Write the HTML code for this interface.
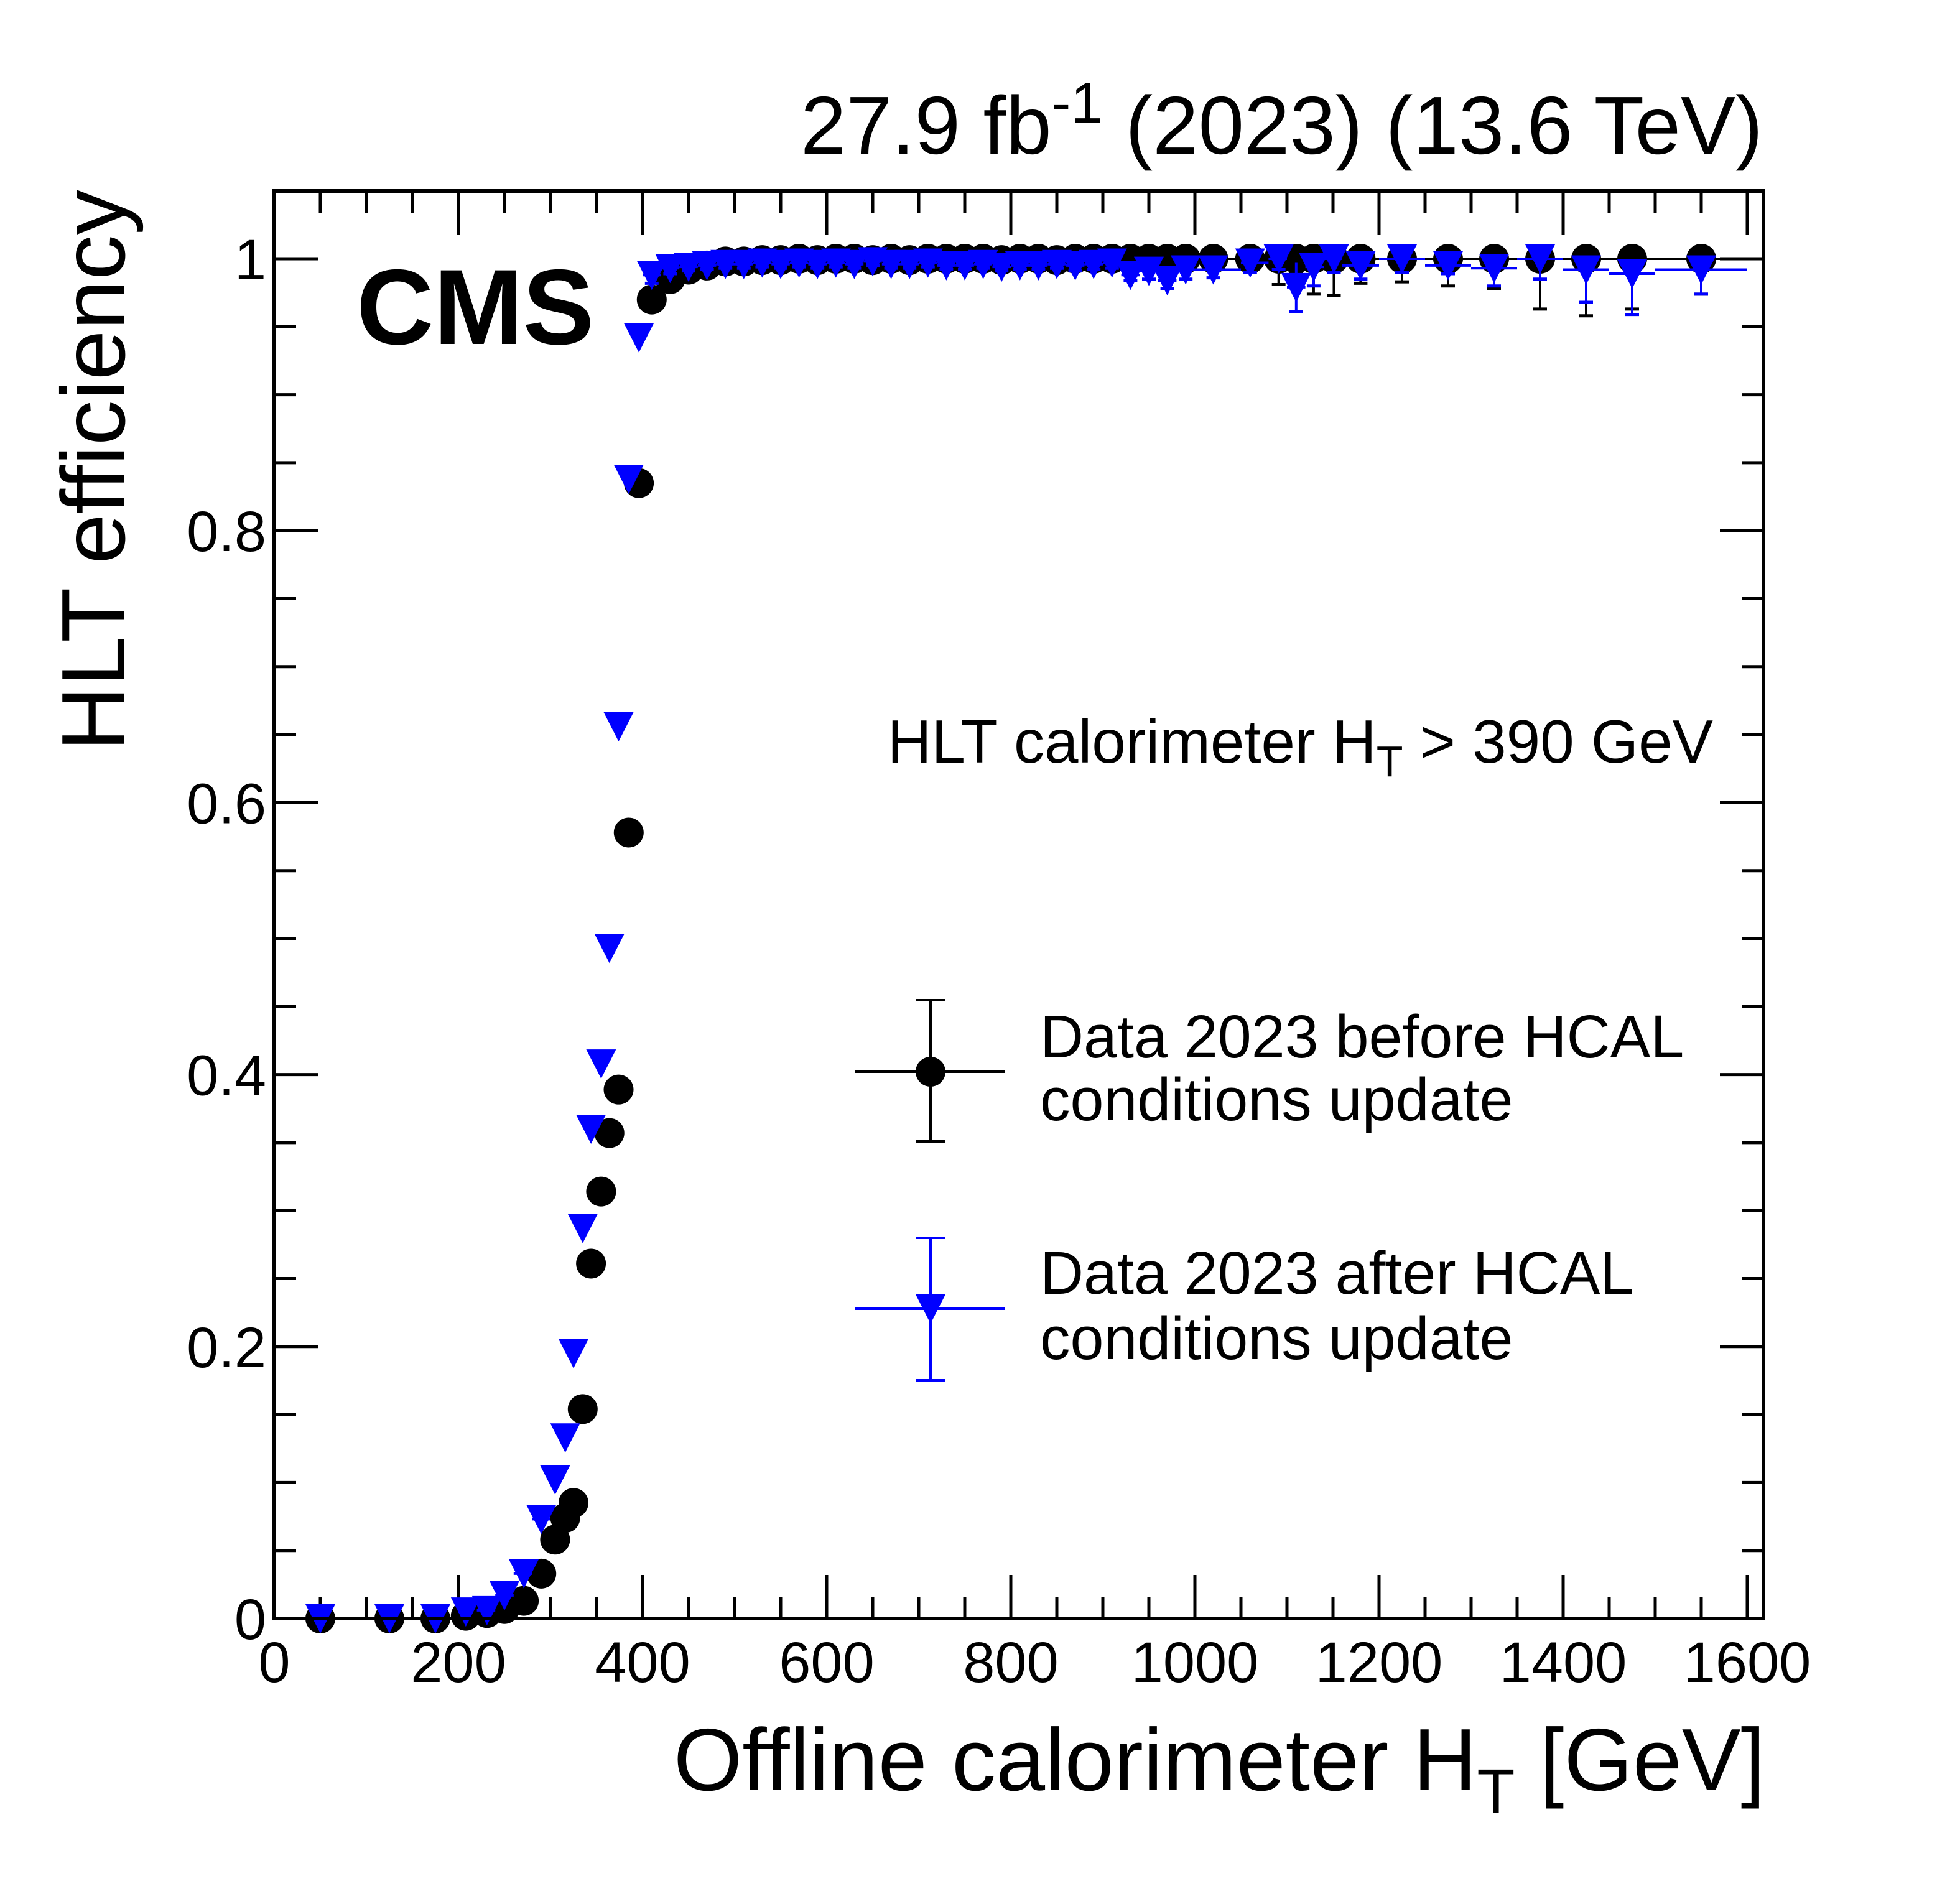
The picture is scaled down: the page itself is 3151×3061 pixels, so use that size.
<!DOCTYPE html>
<html><head><meta charset="utf-8"><style>
html,body{margin:0;padding:0;background:#fff}
svg{display:block}
text{font-family:"Liberation Sans",Arial,sans-serif}
</style></head><body>
<svg id="chart" xmlns="http://www.w3.org/2000/svg" width="3151" height="3061" viewBox="0 0 3151 3061">
<rect x="0" y="0" width="3151" height="3061" fill="#fff"/>
<g id="ticks"></g>
<g id="marks"></g>
<rect x="441" y="307" width="2394" height="2295" fill="none" stroke="#000" stroke-width="6"/>
<text x="2834" y="247" font-size="132" text-anchor="end">27.9 fb<tspan dy="-50" font-size="92">-1</tspan><tspan dy="50"> (2023) (13.6 TeV)</tspan></text>
<text x="573" y="553" font-size="172" font-weight="bold">CMS</text>
<text x="2754" y="1226" font-size="98" text-anchor="end">HLT calorimeter H<tspan dy="22" font-size="70">T</tspan><tspan dy="-22"> &gt; 390 GeV</tspan></text>
<text transform="translate(200,305) rotate(-90)" font-size="145" text-anchor="end">HLT efficiency</text>
<text x="2838" y="2878" font-size="142" text-anchor="end">Offline calorimeter H<tspan dy="36" font-size="100">T</tspan><tspan dy="-36"> [GeV]</tspan></text>
<g>
<g>
<line x1="1375" y1="1723" x2="1616" y2="1723" stroke="#000" stroke-width="4"/>
<line x1="1496" y1="1608" x2="1496" y2="1835" stroke="#000" stroke-width="4"/>
<line x1="1472" y1="1608" x2="1520" y2="1608" stroke="#000" stroke-width="4"/>
<line x1="1472" y1="1835" x2="1520" y2="1835" stroke="#000" stroke-width="4"/>
<circle cx="1496" cy="1723" r="24" fill="#000"/>
<text x="1672" y="1700" font-size="97">Data 2023 before HCAL</text>
<text x="1672" y="1801" font-size="97">conditions update</text>
</g>
<g>
<line x1="1375" y1="2104" x2="1616" y2="2104" stroke="#00f" stroke-width="4"/>
<line x1="1496" y1="1990" x2="1496" y2="2219" stroke="#00f" stroke-width="4"/>
<line x1="1472" y1="1990" x2="1520" y2="1990" stroke="#00f" stroke-width="4"/>
<line x1="1472" y1="2219" x2="1520" y2="2219" stroke="#00f" stroke-width="4"/>
<polygon points="1472,2081 1520,2081 1496,2128" fill="#00f"/>
<text x="1672" y="2080" font-size="97">Data 2023 after HCAL</text>
<text x="1672" y="2185" font-size="97">conditions update</text>
</g>
</g>
</svg>
<script>
const xCenters=[50,125,175,208,231,250,271,290,305,316,325,335,344,355,364,374,385,396,410,430,450,470,490,510,530,550,570,590,610,630,650,670,690,710,730,750,770,790,810,830,850,870,890,910,930,950,970,990,1020,1060,1091,1110,1129,1151,1180,1225,1275,1325,1375,1425,1475,1550];
const xLow=[0,100,150,200,220,240,260,280,300,310,320,330,340,350,360,370,380,390,400,420,440,460,480,500,520,540,560,580,600,620,640,660,680,700,720,740,760,780,800,820,840,860,880,900,920,940,960,980,1000,1050,1080,1100,1120,1140,1160,1200,1250,1300,1350,1400,1450,1500];
const xHigh=[100,150,200,215,240,260,280,300,310,320,330,340,350,360,370,380,390,400,420,440,460,480,500,520,540,560,580,600,620,640,660,680,700,720,740,760,780,800,820,840,860,880,900,920,940,960,980,1000,1050,1080,1100,1120,1140,1160,1200,1250,1300,1350,1400,1450,1500,1600];
const effBefore=[0,0,0,0.002,0.004,0.007,0.013,0.033,0.058,0.074,0.085,0.154,0.261,0.314,0.357,0.389,0.578,0.835,0.970,0.985,0.992,0.995,0.998,0.998,0.999,0.999,1,0.999,1,1,0.999,1,0.999,1,1,1,1,0.999,1,1,0.999,1,1,1,1,1,1,1,1,1,1,1,1,1,1,1,1,1,1,1,1,1];
const errBefore=[0,0,0,0,0,0,0,0,0,0,0,0,0,0,0,0,0,0,0.005,0.004,0.003,0.003,0.002,0.002,0.002,0.002,0.002,0.002,0.002,0.002,0.002,0.002,0.002,0.002,0.002,0.002,0.002,0.002,0.002,0.003,0.003,0.003,0.003,0.004,0.004,0.005,0.005,0.005,0.006,0.008,0.019,0.010,0.026,0.027,0.018,0.017,0.020,0.022,0.037,0.042,0.037,0.026];
const effAfter=[0,0,0,0.005,0.006,0.017,0.033,0.073,0.102,0.133,0.195,0.287,0.360,0.408,0.493,0.656,0.838,0.942,0.988,0.993,0.994,0.995,0.996,0.996,0.997,0.996,0.997,0.996,0.997,0.996,0.998,0.996,0.996,0.997,0.995,0.995,0.996,0.994,0.995,0.995,0.996,0.995,0.996,0.997,0.988,0.991,0.984,0.992,0.992,0.997,1.0,0.979,0.994,1.0,0.995,1.0,0.995,0.993,1.0,0.992,0.989,0.992];
const errAfter=[0,0,0,0,0,0,0,0,0,0,0,0,0,0,0,0,0,0,0.006,0.004,0.003,0.003,0.003,0.003,0.003,0.003,0.003,0.003,0.003,0.003,0.003,0.003,0.003,0.003,0.003,0.003,0.003,0.003,0.003,0.003,0.003,0.004,0.004,0.004,0.004,0.006,0.006,0.007,0.006,0.007,0.008,0.018,0.014,0.010,0.010,0.010,0.006,0.013,0.015,0.024,0.030,0.018];
const xTicks=[0,200,400,600,800,1000,1200,1400,1600];
const yTicks=[0,0.2,0.4,0.6,0.8,1];
const yTickLabels=["0","0.2","0.4","0.6","0.8","1"];
const NS='http://www.w3.org/2000/svg';
function X(v){return 441+v*1.48;}
function Y(v){return 2602-v*2186;}
function mk(tag,attrs,parent){const e=document.createElementNS(NS,tag);for(const k in attrs)e.setAttribute(k,attrs[k]);parent.appendChild(e);return e;}
const tg=document.getElementById('ticks');
for(let v=0;v<=1617;v+=50){
  const maj=v%200===0;const L=maj?70:35;
  const t1=mk('line',{x1:X(v),x2:X(v),y1:2602,y2:2602-L,stroke:'#000','stroke-width':5},tg);
  
  
  const t2=mk('line',{x1:X(v),x2:X(v),y1:307,y2:307+L,stroke:'#000','stroke-width':5},tg);
  
  
}
for(let i=0;i<=21;i++){
  const v=i*0.05;const maj=i%4===0;const L=maj?70:35;
  const t1=mk('line',{x1:441,x2:441+L,y1:Y(v),y2:Y(v),stroke:'#000','stroke-width':5},tg);
  
  
  const t2=mk('line',{x1:2835,x2:2835-L,y1:Y(v),y2:Y(v),stroke:'#000','stroke-width':5},tg);
  
  
}
xTicks.forEach(v=>{const t=mk('text',{x:X(v),y:2704,'font-size':92,'text-anchor':'middle'},tg);t.textContent=String(v);
  
  });
yTicks.forEach((v,i)=>{const t=mk('text',{x:428,y:Y(v)+33,'font-size':92,'text-anchor':'end'},tg);t.textContent=yTickLabels[i];
  
  });
const mg=document.getElementById('marks');
function series(eff,err,color,tri,name){
  const g=mk('g',{},mg);
  
  
  eff.forEach((e,i)=>{
    const cx=X(xCenters[i]),cy=Y(e);
    mk('line',{x1:X(xLow[i]),x2:X(xHigh[i]),y1:cy,y2:cy,stroke:color,'stroke-width':4},g);
    if(err[i]>0){const lo=Y(Math.max(0,e-err[i])),hi=Y(Math.min(1,e+err[i]));
      mk('line',{x1:cx,x2:cx,y1:hi,y2:lo,stroke:color,'stroke-width':4},g);
      mk('line',{x1:cx-11,x2:cx+11,y1:lo,y2:lo,stroke:color,'stroke-width':5},g);}
    let m;
    if(tri){m=mk('polygon',{points:(cx-24)+','+(cy-23)+' '+(cx+24)+','+(cy-23)+' '+cx+','+(cy+24),fill:color},g);}
    else{m=mk('circle',{cx:cx,cy:cy,r:24,fill:color},g);}
    
    
  });
}
series(effBefore,errBefore,'#000',false,'series-before-update');
series(effAfter,errAfter,'#00f',true,'series-after-update');
</script>
</body></html>
